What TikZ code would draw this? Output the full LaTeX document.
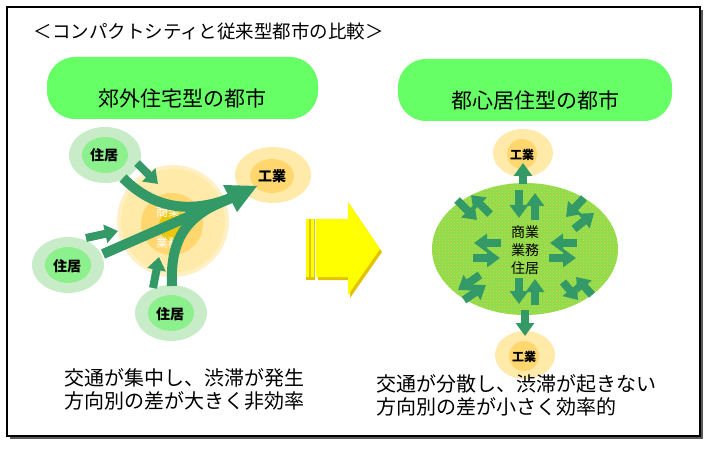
\documentclass[tikz,border=0pt]{standalone}
\usepackage{fontspec}
\setmainfont{Noto Sans CJK JP}
\usepackage{tikz}
\usepackage{xcolor}
\usetikzlibrary{arrows.meta, patterns}

\definecolor{pillgreen}{RGB}{102,255,102}
\definecolor{flowgreen}{RGB}{51,153,102}
\definecolor{resout}{RGB}{200,236,200}
\definecolor{resin}{RGB}{140,240,140}
\definecolor{indout}{RGB}{255,234,170}
\definecolor{indin}{RGB}{255,215,110}
\definecolor{coreyel}{RGB}{235,200,10}
\definecolor{bigyel}{RGB}{255,255,0}
\definecolor{yelshade}{RGB}{225,195,0}
\definecolor{mixgreen}{RGB}{140,220,80}
\definecolor{mixdots}{RGB}{225,215,60}

\tikzset{
    pill/.style={fill=pillgreen, rounded corners=28},
    lbl/.style={font=\fontsize{14}{14}\selectfont\bfseries},
    flow/.style={draw=flowgreen, line width=8pt, -{Triangle[width=18pt,length=13pt]}},
    bigflow/.style={draw=flowgreen, line width=10pt},
    caption/.style={font=\fontsize{20}{23}\selectfont, align=left, anchor=west}
}

\begin{document}
\begin{tikzpicture}[x=1pt, y=-1pt]
                \useasboundingbox (0, 0) rectangle (712, 449);

                % frame
                \fill[gray!70!black] (10, 10) rectangle (703, 439);
                \draw[fill=white, line width=1.2pt] (7, 7) rectangle (700, 436);

                \node[anchor=west, font=\fontsize{18.5}{18.5}\selectfont] (title) at (30, 31)
                {＜コンパクトシティと従来型都市の比較＞};

                % headings
                \fill[pill] (47, 57) rectangle (318, 119);
                \node[font=\fontsize{21}{21}\selectfont] (suburb) at (182, 99) {郊外住宅型の都市};
                \fill[pill] (398, 59) rectangle (672, 121);
                \node[font=\fontsize{21}{21}\selectfont] (centre) at (535, 101) {都心居住型の都市};

                % suburban city
                \fill[indout!70!white] (173, 221) circle (56);
                \fill[indout] (173, 221) circle (52);
                \fill[indin] (172, 224) circle (31);
                \fill[coreyel] (174, 226) circle (15);
                \node[text=white, font=\fontsize{12}{12}\selectfont] (shop) at (168, 212) {商業};
                \node[text=white, font=\fontsize{12}{12}\selectfont] (office) at (168, 243) {業務};

                \fill[resout] (105, 155) ellipse [x radius=36, y radius=28];
                \fill[resin] (105, 155) ellipse [x radius=23, y radius=18];
                \node[lbl] (resa) at (104, 155) {住居};
                \fill[resout] (68, 265) ellipse [x radius=36, y radius=28];
                \fill[resin] (68, 265) ellipse [x radius=23, y radius=18];
                \node[lbl] (resb) at (67, 266) {住居};
                \fill[resout] (171, 313) ellipse [x radius=36, y radius=28];
                \fill[resin] (171, 313) ellipse [x radius=23, y radius=18];
                \node[lbl] (resc) at (170, 314) {住居};
                \fill[indout] (273, 175) ellipse [x radius=38, y radius=28];
                \fill[indin] (272, 176) ellipse [x radius=22, y radius=17];
                \node[lbl] (indl) at (272, 176) {工業};

                \coordinate (ta) at (137, 163);
                \coordinate (ha) at (158, 184);
                \coordinate (tb) at (86, 238);
                \coordinate (hb) at (118, 231);
                \coordinate (tc) at (153, 288);
                \coordinate (hc) at (159, 257);
                \draw[flow] (ta) -- (ha);
                \draw[flow] (tb) -- (hb);
                \draw[flow] (tc) -- (hc);

                \coordinate (base) at (231, 198);
                \coordinate (tip) at (257, 186);
                \coordinate (wingl) at (223, 185);
                \coordinate (wingr) at (237, 212);
                \draw[bigflow] (123, 178) .. controls (160, 215) and (200, 210) .. (base);
                \draw[bigflow] (103, 254) -- (base);
                \draw[bigflow] (172, 286) .. controls (170, 240) and (185, 215) .. (base);
                \fill[flowgreen] (wingl) -- (tip) -- (wingr) -- cycle;

                % big arrow between
                \fill[yelshade] (318, 222) -- (350, 222) -- (350, 205) -- (382, 252)
                -- (350, 298) -- (350, 280) -- (318, 280) -- cycle;
                \fill[yelshade] (306, 219) rectangle (311, 280);
                \fill[yelshade] (311, 219) rectangle (315, 280);
                \fill[bigyel] (306, 219) rectangle (309, 277);
                \fill[bigyel] (311, 219) rectangle (314, 277);
                \fill[bigyel] (316, 219) -- (348, 219) -- (348, 202) -- (380, 249)
                -- (348, 295) -- (348, 277) -- (316, 277) -- cycle;

                % central city
                \fill[mixgreen] (525, 249) ellipse [x radius=93, y radius=66];
                \fill[pattern=crosshatch dots, pattern color=mixdots] (525, 249) ellipse [x radius=93, y radius=66];
                \node[font=\fontsize{14}{14}\selectfont] (mix) at (525, 250)
                {\shortstack{商業\\[2pt]業務\\[2pt]住居}};

                \fill[indout] (523, 153) ellipse [x radius=30, y radius=24];
                \fill[indin] (522, 154) circle (15);
                \node[font=\fontsize{12}{12}\selectfont\bfseries] (indt) at (522, 155) {工業};
                \fill[indout] (525, 355) ellipse [x radius=30, y radius=24];
                \fill[indin] (524, 356) circle (15);
                \node[font=\fontsize{12}{12}\selectfont\bfseries] (indb) at (524, 357) {工業};

                \draw[flow] (523, 184) -- (523, 163);
                \draw[flow] (525, 310) -- (525, 336);

                \draw[flow] (519, 190) -- (519, 218);
                \draw[flow] (535, 220) -- (535, 193);
                \draw[flow] (519, 278) -- (519, 304);
                \draw[flow] (535, 305) -- (535, 279);
                \draw[flow] (501, 243) -- (474, 243);
                \draw[flow] (473, 258) -- (500, 258);
                \draw[flow] (577, 243) -- (550, 243);
                \draw[flow] (549, 258) -- (576, 258);
                \draw[flow] (457, 200) -- (477, 220);
                \draw[flow] (490, 214) -- (471, 195);
                \draw[flow] (584, 198) -- (566, 217);
                \draw[flow] (574, 229) -- (594, 213);
                \draw[flow] (480, 275) -- (458, 290);
                \draw[flow] (464, 300) -- (486, 285);
                \draw[flow] (592, 295) -- (576, 277);
                \draw[flow] (563, 282) -- (578, 300);

                % captions
                \node[caption] (capl) at (61, 389)
                {交通が集中し、渋滞が発生\\方向別の差が大きく非効率};
                \node[caption] (capr) at (373, 395)
                {交通が分散し、渋滞が起きない\\方向別の差が小さく効率的};
            \end{tikzpicture}
\end{document}
